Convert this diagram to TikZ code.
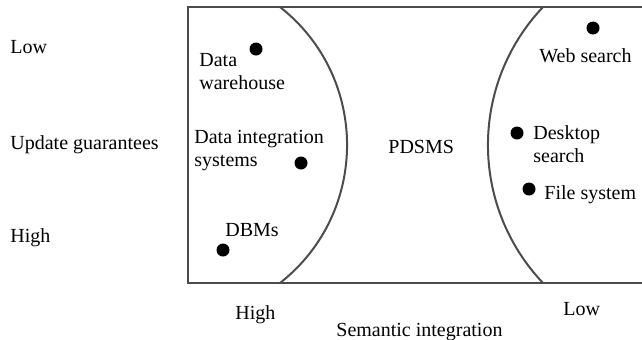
\documentclass[tikz,border=0pt]{standalone}
\usepackage{fontspec}
\setmainfont{Liberation Serif}
\usetikzlibrary{positioning}
\tikzset{
    quadrant/.style={
        x=0.5pt, y=-0.5pt,
        font=\fontsize{10}{11.5}\selectfont,
        % frame and boundary curves
        border/.style={draw=black!70, line width=1pt},
        % systems (filled circle)
        sysdot/.style={circle, fill=black, minimum size=6.5pt, inner sep=0pt},
        % labels in the regions and on the axes
        label text/.style={anchor=north west, inner sep=0pt, align=left}
    }
}
\begin{document}
\begin{tikzpicture}[quadrant]
        \useasboundingbox (0,0) rectangle (642,339);
        % frame, open on the right
        \draw[border] (642,7) -- (188,7) -- (188,283) -- (642,283);
        % boundary curves
        \draw[border] (280,7) .. controls (369.4,77.3) and (369.4,212.7) .. (280,283);
        \draw[border] (543,7) .. controls (469.6,84.5) and (469.6,205.5) .. (543,283);
        % update guarantees axis
        \node[label text] (low) at (10,40) {Low};
        \node[label text] (upd) at (10,135) {Update guarantees};
        \node[label text] (high) at (10,228) {High};
        % semantic integration axis
        \node[label text] (shigh) at (235,305) {High};
        \node[label text] (slow) at (563,302) {Low};
        \node[label text] (sem) at (336,323) {Semantic integration};
        % systems
        \node[sysdot] (dw) at (256,49) {};
        \node[label text] (dwl) at (199,53) {Data\\warehouse};
        \node[sysdot] (dis) at (301,163) {};
        \node[label text] (disl) at (194,130) {Data integration\\systems};
        \node[sysdot] (dbm) at (223,250) {};
        \node[label text] (dbml) at (225,223) {DBMs};
        \node[label text] (pdsms) at (388,140) {PDSMS};
        \node[sysdot] (web) at (593,28) {};
        \node[label text] (webl) at (539,48) {Web search};
        \node[sysdot] (desk) at (517,133) {};
        \node[label text] (deskl) at (533,125) {Desktop\\search};
        \node[sysdot] (fs) at (529,189) {};
        \node[label text] (fsl) at (544,185) {File system};
\end{tikzpicture}
\end{document}
